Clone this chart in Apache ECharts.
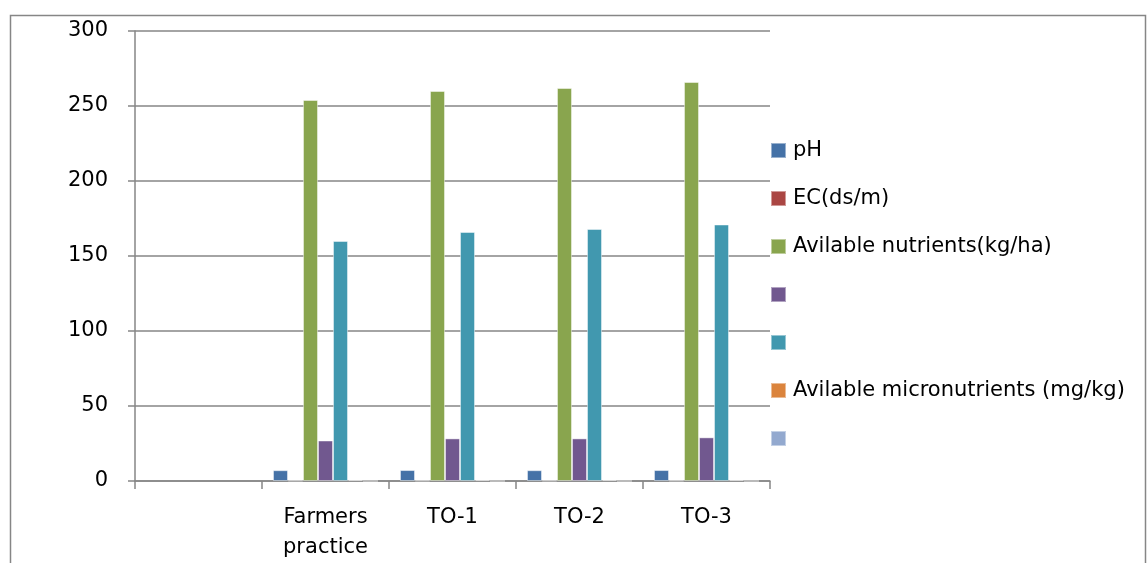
<!DOCTYPE html>
<html>
<head>
<meta charset="utf-8">
<script src="https://cdn.jsdelivr.net/npm/echarts@6/dist/echarts.min.js"></script>
<style>
  html, body { margin: 0; padding: 0; background: #fff; }
  #chart { width: 1148px; height: 563px; }
</style>
</head>
<body>
<div id="chart"></div>
<script>
// Soil properties by treatment
const categories = ['', 'Farmers\npractice', 'TO-1', 'TO-2', 'TO-3'];
const seriesNames = ['pH', 'EC(ds/m)', 'Avilable nutrients(kg/ha)', ' ', '  ', 'Avilable micronutrients (mg/kg)', '   '];
const seriesColors = ['#4572A7', '#AA4643', '#89A54E', '#71588F', '#4198AF', '#DB843D', '#93A9CF'];
const phValues = [null, 7.2, 7.3, 7.2, 7.3];
const ecValues = [null, 0.3, 0.3, 0.3, 0.3];
const nutrientValues = [null, 254, 260, 262, 266];
const purpleValues = [null, 27, 28.4, 28.4, 29.1];
const tealValues = [null, 160, 166, 168, 171];
const microValues = [null, 0.6, 0.6, 0.6, 0.6];
const lightBlueValues = [null, 0, 0, 0, 0];
const yTicks = { min: 0, max: 300, interval: 50 };

const allValues = [phValues, ecValues, nutrientValues, purpleValues, tealValues, microValues, lightBlueValues];
const FONT = 'DejaVu Sans';
const GRAY = '#868686';

const series = seriesNames.map((name, i) => ({
  name: name,
  type: 'bar',
  data: allValues[i],
  barGap: 0,
  barCategoryGap: '17.3%',
  itemStyle: { color: seriesColors[i], borderColor: 'rgba(255,255,255,0.45)', borderWidth: 1 },
  emphasis: { disabled: true }
}));

const chart = echarts.init(document.getElementById('chart'), null, { renderer: 'canvas' });
chart.setOption({
  animation: false,
  textStyle: { fontFamily: FONT },
  graphic: [{
    type: 'rect',
    shape: { x: 10.5, y: 15.5, width: 1135, height: 600 },
    style: { fill: 'none', stroke: GRAY, lineWidth: 1.5 },
    silent: true
  }],
  grid: { left: 135, top: 31, width: 635, height: 450, containLabel: false },
  legend: {
    orient: 'vertical',
    left: 765,
    top: 135,
    itemWidth: 15,
    itemHeight: 15,
    itemGap: 27,
    icon: 'rect',
    data: seriesNames,
    textStyle: { fontFamily: FONT, fontSize: 21, color: '#000', padding: [0, 0, 0, 2] },
    selectedMode: false
  },
  xAxis: {
    type: 'category',
    data: categories,
    boundaryGap: true,
    axisLine: { show: true, lineStyle: { color: GRAY, width: 1.5 } },
    axisTick: { show: true, length: 8, alignWithLabel: false, lineStyle: { color: GRAY, width: 1.5 } },
    axisLabel: { interval: 0, fontFamily: FONT, fontSize: 21, color: '#000', margin: 22, lineHeight: 30 },
    splitLine: { show: false }
  },
  yAxis: {
    type: 'value',
    min: yTicks.min,
    max: yTicks.max,
    interval: yTicks.interval,
    axisLine: { show: true, lineStyle: { color: GRAY, width: 1.5 } },
    axisTick: { show: true, length: 7, lineStyle: { color: GRAY, width: 1.5 } },
    axisLabel: { fontFamily: FONT, fontSize: 21, color: '#000', margin: 27, padding: [3, 0, 0, 0] },
    splitLine: { show: true, lineStyle: { color: GRAY, width: 1.5 } }
  },
  series: series
});
</script>
</body>
</html>
